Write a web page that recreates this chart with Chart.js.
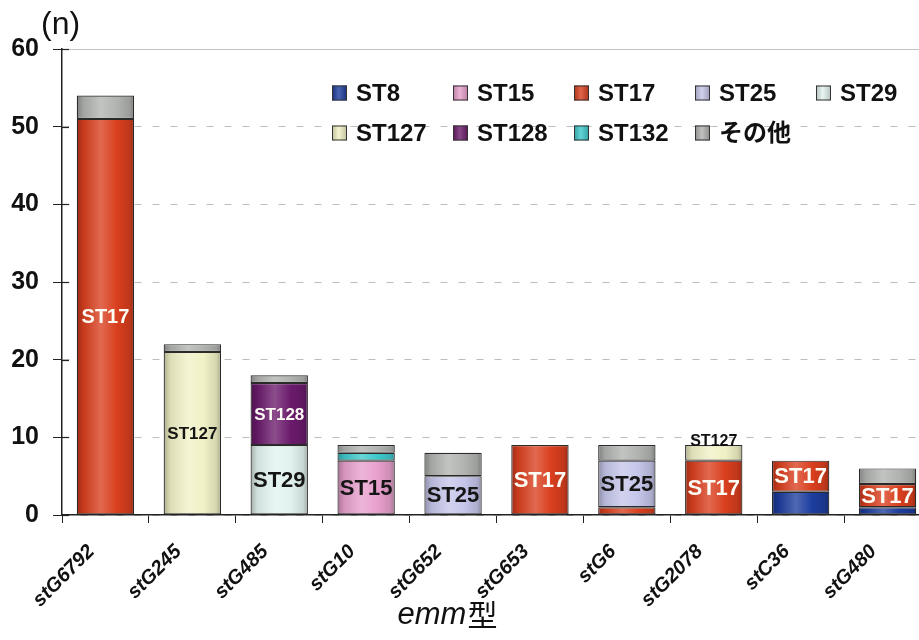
<!DOCTYPE html>
<html>
<head>
<meta charset="utf-8">
<script src="https://cdn.jsdelivr.net/npm/chart.js@4/dist/chart.umd.min.js"></script>
<style>
  html, body { margin: 0; padding: 0; background: #fff; overflow: hidden; }
  #wrap { position: absolute; left: 0; top: 0; width: 940px; height: 640px; }
</style>
</head>
<body>
<div id="wrap"><canvas id="c" width="940" height="640"></canvas></div>
<script>
// emm types (x axis)
const categories = ['stG6792', 'stG245', 'stG485', 'stG10', 'stG652', 'stG653', 'stG6', 'stG2078', 'stC36', 'stG480'];

// isolate counts per sequence type, stacked bottom to top
const st8   = [0, 0, 0, 0, 0, 0, 0, 0, 3, 1];
const st15  = [0, 0, 0, 7, 0, 0, 0, 0, 0, 0];
const st17  = [51, 0, 0, 0, 0, 9, 1, 7, 4, 3];
const st25  = [0, 0, 0, 0, 5, 0, 6, 0, 0, 0];
const st29  = [0, 0, 9, 0, 0, 0, 0, 0, 0, 0];
const st127 = [0, 21, 0, 0, 0, 0, 0, 2, 0, 0];
const st128 = [0, 0, 8, 0, 0, 0, 0, 0, 0, 0];
const st132 = [0, 0, 0, 1, 0, 0, 0, 0, 0, 0];
const other = [3, 1, 1, 1, 3, 0, 2, 0, 0, 2];

const seriesNames = ['ST8', 'ST15', 'ST17', 'ST25', 'ST29', 'ST127', 'ST128', 'ST132', 'その他'];
const seriesValues = [st8, st15, st17, st25, st29, st127, st128, st132, other];

// y axis ticks
const yTicks = [0, 10, 20, 30, 40, 50, 60];

// segments that carry a label: [series, emm type]
const segmentNotes = [
  ['ST17', 'stG6792'], ['ST127', 'stG245'], ['ST29', 'stG485'], ['ST128', 'stG485'],
  ['ST15', 'stG10'], ['ST25', 'stG652'], ['ST17', 'stG653'], ['ST25', 'stG6'],
  ['ST17', 'stG2078'], ['ST127', 'stG2078'], ['ST17', 'stC36'], ['ST17', 'stG480']
];

const baseColors = ['#1d3d9e', '#e8a0cd', '#d93f1e', '#c5c5ea', '#e2f3ef', '#f1f1c6', '#6b1b6c', '#3ec9cc', '#b1b3b0'];
const lightText = { 'ST17': true, 'ST128': true };
const FONT = '"Liberation Sans", Arial, sans-serif';

function shade(hex, f) {
  const n = parseInt(hex.slice(1), 16);
  let r = (n >> 16) & 255, g = (n >> 8) & 255, b = n & 255;
  if (f < 0) { r *= (1 + f); g *= (1 + f); b *= (1 + f); }
  else { r += (255 - r) * f; g += (255 - g) * f; b += (255 - b) * f; }
  return 'rgb(' + Math.round(r) + ',' + Math.round(g) + ',' + Math.round(b) + ')';
}

const BAR_PCT = 0.66;

// cylinder-like horizontal shading across each bar
function barFill(si) {
  return (ctx) => {
    const chart = ctx.chart;
    const xs = chart.scales.x;
    if (!xs || ctx.dataIndex === undefined || !isFinite(xs.width) || xs.width <= 0) return baseColors[si];
    const cx = xs.getPixelForValue(ctx.dataIndex);
    const w = (xs.width / categories.length) * BAR_PCT;
    const g = chart.ctx.createLinearGradient(cx - w / 2, 0, cx + w / 2, 0);
    const c = baseColors[si];
    g.addColorStop(0, shade(c, -0.28));
    g.addColorStop(0.12, shade(c, -0.08));
    g.addColorStop(0.42, shade(c, 0.22));
    g.addColorStop(0.7, c);
    g.addColorStop(0.92, shade(c, -0.12));
    g.addColorStop(1, shade(c, -0.3));
    return g;
  };
}

const datasets = seriesNames.map((name, si) => ({
  label: name,
  data: seriesValues[si].map(v => (v === 0 ? null : v)),
  backgroundColor: barFill(si),
  borderColor: '#2a2a2a',
  borderWidth: 1.2,
  borderSkipped: false,
  barPercentage: BAR_PCT,
  categoryPercentage: 1.0
}));

// segment labels: centred inside, or sitting on top when the segment is too thin
const segmentLabelPlugin = {
  id: 'segmentLabels',
  afterDatasetsDraw(chart) {
    const ctx = chart.ctx;
    ctx.save();
    ctx.textAlign = 'center';
    segmentNotes.forEach(([name, cat]) => {
      const si = seriesNames.indexOf(name);
      const ci = categories.indexOf(cat);
      const el = chart.getDatasetMeta(si).data[ci];
      if (!el) return;
      const h = Math.abs(el.base - el.y);
      let size = name.length > 4 ? 17 : 22;
      if (h > 300) size = 20;
      if (h < size) {
        ctx.font = 'bold 16px ' + FONT;
        ctx.fillStyle = '#111';
        ctx.textBaseline = 'alphabetic';
        ctx.fillText(name, el.x, el.y + 1);
      } else {
        ctx.font = 'bold ' + size + 'px ' + FONT;
        ctx.fillStyle = lightText[name] ? '#fdfdf5' : '#151515';
        ctx.textBaseline = 'middle';
        ctx.fillText(name, el.x, (el.y + el.base) / 2 + 1);
      }
    });
    ctx.restore();
  }
};

// inner tick marks on the value axis, top rule, five-column legend, unit mark and axis title
const decorPlugin = {
  id: 'decor',
  beforeDatasetsDraw(chart) {
    const ctx = chart.ctx;
    const ys = chart.scales.y;
    const area = chart.chartArea;
    ctx.save();
    ctx.strokeStyle = '#c4c4c4';
    ctx.lineWidth = 1;
    ctx.beginPath();
    ctx.moveTo(area.left, Math.round(ys.getPixelForValue(60)) + 0.5);
    ctx.lineTo(area.right, Math.round(ys.getPixelForValue(60)) + 0.5);
    ctx.stroke();
    ctx.restore();
  },
  afterDraw(chart) {
    const ctx = chart.ctx;
    const ys = chart.scales.y;
    const area = chart.chartArea;
    ctx.save();
    ctx.strokeStyle = '#222';
    ctx.lineWidth = 1.2;
    yTicks.forEach(v => {
      const y = Math.round(ys.getPixelForValue(v)) + 0.5;
      ctx.beginPath();
      ctx.moveTo(area.left, y);
      ctx.lineTo(area.left + 7, y);
      ctx.stroke();
    });
    // legend
    chart.data.datasets.forEach((ds, i) => {
      const col = i % 5, row = Math.floor(i / 5);
      const x = 332 + col * 121;
      const y = 93 + row * 40;
      const g = ctx.createLinearGradient(x, 0, x + 15, 0);
      const c = baseColors[i];
      g.addColorStop(0, shade(c, -0.2));
      g.addColorStop(0.45, shade(c, 0.2));
      g.addColorStop(1, shade(c, -0.2));
      ctx.fillStyle = g;
      ctx.fillRect(x, y - 7.5, 15, 15);
      ctx.strokeStyle = '#333';
      ctx.lineWidth = 1;
      ctx.strokeRect(x + 0.5, y - 7, 14, 14);
      ctx.fillStyle = '#111';
      ctx.font = 'bold 24px "Liberation Sans", "Noto Sans CJK JP", Arial, sans-serif';
      ctx.textAlign = 'left';
      ctx.textBaseline = 'middle';
      ctx.fillText(ds.label, x + 24, y + 1);
    });
    // unit mark
    ctx.font = '32px ' + FONT;
    ctx.fillStyle = '#111';
    ctx.textAlign = 'left';
    ctx.textBaseline = 'middle';
    ctx.fillText('(n)', 41, 25);
    // x axis title
    const f1 = 'italic 31px ' + FONT;
    const f2 = '30px "Noto Sans CJK JP", sans-serif';
    ctx.font = f1; const w1 = ctx.measureText('emm').width;
    ctx.font = f2; const w2 = ctx.measureText('型').width;
    const x0 = 447 - (w1 + w2) / 2;
    ctx.textBaseline = 'alphabetic';
    ctx.font = f1; ctx.fillText('emm', x0, 624);
    ctx.font = f2; ctx.fillText('型', x0 + w1 + 1, 626);
    ctx.restore();
  }
};

new Chart(document.getElementById('c'), {
  type: 'bar',
  data: { labels: categories, datasets },
  plugins: [segmentLabelPlugin, decorPlugin],
  options: {
    responsive: false,
    animation: false,
    devicePixelRatio: 1,
    layout: { padding: { top: 49, right: 9, bottom: 0, left: 0 } },
    plugins: { legend: { display: false }, tooltip: { enabled: false } },
    scales: {
      x: {
        stacked: true,
        afterFit(s) { s.height = 125; },
        grid: { display: true, drawOnChartArea: false, tickLength: 8, tickColor: '#222', offset: true },
        border: { display: true, color: '#222', width: 1.5 },
        ticks: {
          color: '#111',
          minRotation: 45, maxRotation: 45,
          labelOffset: -14,
          padding: 17,
          font: { family: FONT, size: 20, weight: 'bold', style: 'italic' }
        }
      },
      y: {
        stacked: true,
        min: 0, max: 60,
        afterFit(s) { s.width = 62; },
        afterBuildTicks(s) { s.ticks = yTicks.map(v => ({ value: v })); },
        grid: { color: '#bdbdbd', lineWidth: 1, tickLength: 9, tickColor: '#222', tickBorderDash: [] },
        border: { display: true, color: '#222', width: 1.5, dash: [7, 11] },
        ticks: {
          color: '#111',
          padding: 14,
          font: { family: FONT, size: 25, weight: 'bold' }
        }
      }
    }
  }
});
</script>
</body>
</html>
